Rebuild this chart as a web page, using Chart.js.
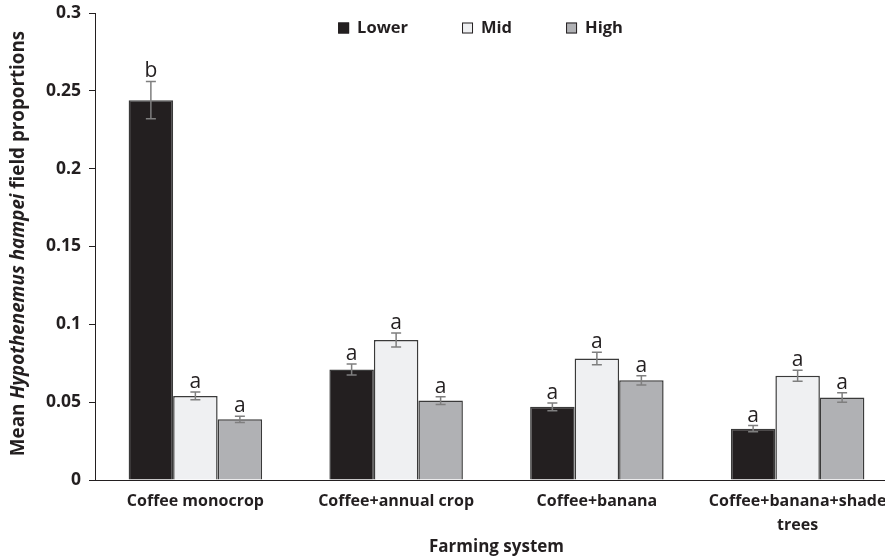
<!DOCTYPE html>
<html>
<head>
<meta charset="utf-8">
<script src="https://cdn.jsdelivr.net/npm/chart.js@4.4.0/dist/chart.umd.min.js"></script>
<style>
  html, body { margin: 0; padding: 0; background: #fff; overflow: hidden; width: 885px; height: 559px; }
  #wrap { width: 900px; height: 559px; position: relative; }
</style>
</head>
<body>
<div id="wrap"><canvas id="c" width="900" height="559"></canvas></div>
<script>
// Farming systems on the x axis
const categories = ['Coffee monocrop', 'Coffee+annual crop', 'Coffee+banana', ['Coffee+banana+shade', 'trees']];

// Mean field proportions per altitude zone
const lower = [0.244, 0.071, 0.047, 0.033];
const mid   = [0.054, 0.090, 0.078, 0.067];
const high  = [0.039, 0.051, 0.064, 0.053];

// Standard errors
const lowerErr = [0.012, 0.0035, 0.0025, 0.002];
const midErr   = [0.0025, 0.0045, 0.004, 0.0035];
const highErr  = [0.002, 0.0025, 0.003, 0.003];

// Significance letters
const lowerLetters = ['b', 'a', 'a', 'a'];
const midLetters   = ['a', 'a', 'a', 'a'];
const highLetters  = ['a', 'a', 'a', 'a'];

// Y axis ticks
const yTicks = [0, 0.05, 0.1, 0.15, 0.2, 0.25, 0.3];

const FONT = "'Open Sans', 'DejaVu Sans', sans-serif";
const TEXT = '#231f20';

// Error bars with significance letters above them
const errorBars = {
  id: 'errorBars',
  afterDatasetsDraw(chart) {
    const ctx = chart.ctx;
    const y = chart.scales.y;
    chart.data.datasets.forEach((ds, di) => {
      const meta = chart.getDatasetMeta(di);
      meta.data.forEach((bar, i) => {
        const v = ds.data[i], e = ds.errors[i];
        const yTop = y.getPixelForValue(v + e);
        const yBot = y.getPixelForValue(v - e);
        ctx.save();
        ctx.strokeStyle = '#7f7f7f';
        ctx.lineWidth = 1.5;
        ctx.beginPath();
        ctx.moveTo(bar.x, yTop); ctx.lineTo(bar.x, yBot);
        ctx.moveTo(bar.x - 5, yTop); ctx.lineTo(bar.x + 5, yTop);
        ctx.moveTo(bar.x - 5, yBot); ctx.lineTo(bar.x + 5, yBot);
        ctx.stroke();
        ctx.fillStyle = TEXT;
        ctx.font = '21px ' + FONT;
        ctx.textAlign = 'center';
        ctx.textBaseline = 'alphabetic';
        ctx.fillText(ds.letters[i], bar.x, yTop - 4);
        ctx.restore();
      });
    });
  }
};

// Rotated y axis title with an italic species name
const yTitle = {
  id: 'yTitle',
  afterDraw(chart) {
    const ctx = chart.ctx;
    const parts = [
      ['Mean ', 'bold'],
      ['Hypothenemus hampei', 'italic bold'],
      [' field proportions', 'bold']
    ];
    ctx.save();
    let total = 0;
    const widths = parts.map(([t, s]) => {
      ctx.font = s + ' 18.8px ' + FONT;
      const w = ctx.measureText(t).width;
      total += w;
      return w;
    });
    const ca = chart.chartArea;
    const cy = (ca.top + ca.bottom) / 2 - 3;
    ctx.translate(19, cy);
    ctx.rotate(-Math.PI / 2);
    ctx.fillStyle = TEXT;
    ctx.textBaseline = 'middle';
    ctx.textAlign = 'left';
    let x = -total / 2;
    parts.forEach(([t, s], i) => {
      ctx.font = s + ' 18.8px ' + FONT;
      ctx.fillText(t, x, 0);
      x += widths[i];
    });
    ctx.restore();
  }
};

// Horizontal legend inside the top of the plot area
const topLegend = {
  id: 'topLegend',
  afterDraw(chart) {
    const ctx = chart.ctx;
    const ca = chart.chartArea;
    const box = 11, gap = 8, spacing = 54;
    ctx.save();
    ctx.font = 'bold 16.5px ' + FONT;
    const items = chart.data.datasets.map(ds => ({
      ds, w: box + gap + ctx.measureText(ds.label).width
    }));
    const total = items.reduce((s, it) => s + it.w, 0) + spacing * (items.length - 1);
    let x = (ca.left + ca.right) / 2 - 16 - total / 2;
    const cy = ca.top + 15;
    items.forEach(it => {
      ctx.fillStyle = it.ds.backgroundColor;
      ctx.fillRect(x, cy - box / 2, box, box);
      ctx.strokeStyle = '#231f20';
      ctx.lineWidth = 1;
      ctx.strokeRect(x + 0.5, cy - box / 2 + 0.5, box - 1, box - 1);
      ctx.fillStyle = TEXT;
      ctx.textBaseline = 'middle';
      ctx.textAlign = 'left';
      ctx.fillText(it.ds.label, x + box + gap, cy);
      x += it.w + spacing;
    });
    ctx.restore();
  }
};

const barStyle = { borderColor: '#3a3a3a', borderWidth: 1.5, borderSkipped: 'bottom' };

new Chart(document.getElementById('c'), {
  type: 'bar',
  data: {
    labels: categories,
    datasets: [
      Object.assign({ label: 'Lower', data: lower, errors: lowerErr, letters: lowerLetters, backgroundColor: '#231f20' }, barStyle),
      Object.assign({ label: 'Mid', data: mid, errors: midErr, letters: midLetters, backgroundColor: '#eff0f2' }, barStyle),
      Object.assign({ label: 'High', data: high, errors: highErr, letters: highLetters, backgroundColor: '#b0b1b4' }, barStyle)
    ]
  },
  options: {
    responsive: false,
    devicePixelRatio: 1,
    animation: false,
    layout: { padding: { top: 13, right: 2, left: 0, bottom: 0 } },
    datasets: { bar: { categoryPercentage: 0.665, barPercentage: 1 } },
    plugins: {
      legend: { display: false },
      tooltip: { enabled: false }
    },
    scales: {
      x: {
        grid: { display: false },
        border: { display: true, color: '#231f20', width: 1 },
        ticks: {
          color: TEXT,
          font: { family: FONT, size: 16, weight: 'bold', lineHeight: 1.5 },
          padding: 1,
          maxRotation: 0,
          autoSkip: false
        },
        title: {
          display: true,
          text: 'Farming system',
          color: TEXT,
          font: { family: FONT, size: 17, weight: 'bold' },
          padding: { top: 0, bottom: 2 }
        },
        afterFit(scale) { scale.height = 79; }
      },
      y: {
        min: 0,
        max: 0.3,
        afterBuildTicks(scale) { scale.ticks = yTicks.map(v => ({ value: v })); },
        grid: { drawOnChartArea: false, drawTicks: true, tickLength: 6, color: '#231f20' },
        border: { display: true, color: '#231f20', width: 1 },
        ticks: {
          color: TEXT,
          font: { family: FONT, size: 17.5, weight: 'bold' },
          padding: 8,
          callback: v => String(Math.round(v * 100) / 100)
        },
        afterFit(scale) {
          scale.width = 95;
          scale.paddingTop = 0;
          scale.paddingBottom = 0;
        }
      }
    }
  },
  plugins: [errorBars, yTitle, topLegend]
});
</script>
</body>
</html>
